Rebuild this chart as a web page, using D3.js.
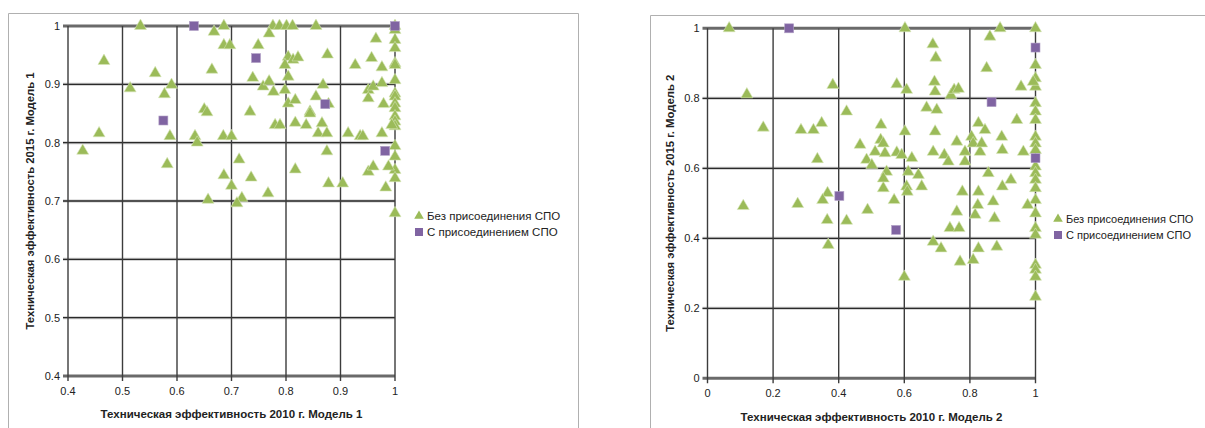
<!DOCTYPE html>
<html><head><meta charset="utf-8">
<script src="https://cdnjs.cloudflare.com/ajax/libs/d3/7.8.5/d3.min.js"></script>
<style>
html,body{margin:0;padding:0;background:#fff;}
svg{display:block;}
</style></head>
<body>
<svg id="c" width="1205" height="428"></svg>
<script>
// ---------- DATA ----------
const seriesNames = ["Без присоединения СПО", "С присоединением СПО"];

const m1XTicks = [0.4, 0.5, 0.6, 0.7, 0.8, 0.9, 1];
const m1YTicks = [0.4, 0.5, 0.6, 0.7, 0.8, 0.9, 1];
const m1XTitle = "Техническая эффективность 2010 г. Модель 1";
const m1YTitle = "Техническая эффективность 2015 г. Модель 1";

const m1Without = [
 [0.533,1.0],[0.668,0.99],[0.686,1.0],[0.686,0.967],[0.697,0.967],[0.466,0.94],[0.56,0.919],[0.664,0.925],
 [0.514,0.893],[0.59,0.899],[0.577,0.883],[0.65,0.857],[0.655,0.852],
 [0.776,1.0],[0.788,1.0],[0.801,1.0],[0.812,1.0],[0.855,1.0],[0.769,0.987],[0.749,0.967],
 [1,1.0],[1,0.993],[1,0.976],[1,0.962],[1,0.936],[1,0.933],[1,0.907],[1,0.884],[1,0.879],[1,0.867],
 [1,0.859],[1,0.845],[1,0.836],[1,0.828],[1,0.794],[1,0.776],[1,0.753],[1,0.739],[1,0.679],
 [0.804,0.947],[0.813,0.942],[0.822,0.946],[0.798,0.933],[0.804,0.913],[0.876,0.951],[0.965,0.978],
 [0.927,0.933],[0.957,0.945],[0.976,0.929],[0.739,0.911],[0.758,0.896],[0.769,0.905],[0.777,0.887],
 [0.798,0.89],[0.804,0.867],[0.817,0.873],[0.868,0.899],[0.855,0.879],[0.878,0.866],[0.844,0.853],
 [0.951,0.89],[0.96,0.896],[0.976,0.902],[0.951,0.876],[0.979,0.866],[0.734,0.853],
 [0.78,0.83],[0.789,0.83],[0.817,0.834],[0.837,0.83],[0.844,0.85],[0.866,0.833],[0.859,0.816],
 [0.875,0.816],[0.914,0.816],[0.936,0.811],[0.941,0.811],[0.976,0.816],[0.994,0.83],[0.875,0.785],
 [0.714,0.771],[0.817,0.754],[0.736,0.74],[0.951,0.75],[0.96,0.759],[0.988,0.759],[0.7,0.726],
 [0.878,0.73],[0.904,0.73],[0.767,0.713],[0.983,0.723],[0.719,0.705],[0.71,0.696],
 [0.457,0.816],[0.587,0.811],[0.633,0.811],[0.637,0.8],[0.685,0.811],[0.7,0.811],[0.427,0.786],
 [0.582,0.763],[0.686,0.744],[0.657,0.702]
];
const m1With = [[0.631,1.0],[0.745,0.945],[1.0,1.0],[0.872,0.866],[0.575,0.838],[0.982,0.786]];

const m2XTicks = [0, 0.2, 0.4, 0.6, 0.8, 1];
const m2YTicks = [0, 0.2, 0.4, 0.6, 0.8, 1];
const m2XTitle = "Техническая эффективность 2010 г. Модель 2";
const m2YTitle = "Техническая эффективность 2015 г. Модель 2";

const m2Without = [
 [0.066,1.0],[0.602,1.0],[0.892,1.0],[1,1.0],[0.861,0.976],[0.687,0.954],[0.696,0.916],[0.851,0.886],
 [0.382,0.838],[0.12,0.811],[0.424,0.762],[0.17,0.716],[0.285,0.709],[0.323,0.709],[0.348,0.729],
 [0.577,0.84],[0.607,0.824],[0.692,0.847],[0.694,0.819],[0.742,0.809],[0.752,0.824],[0.765,0.827],[0.956,0.833],
 [0.668,0.773],[0.699,0.767],[0.529,0.724],[0.694,0.705],[0.826,0.729],[0.943,0.738],[0.846,0.709],[0.602,0.705],
 [1,0.895],[1,0.857],[1,0.833],[1,0.786],[1,0.762],[1,0.738],[1,0.69],[1,0.671],[1,0.652],[1,0.605],
 [1,0.586],[1,0.567],[1,0.543],[1,0.509],[1,0.471],[1,0.429],[1,0.41],[1,0.324],[1,0.31],[1,0.29],[1,0.233],
 [0.993,0.847],
 [0.465,0.667],[0.528,0.681],[0.536,0.671],[0.511,0.647],[0.541,0.643],[0.577,0.645],[0.592,0.638],
 [0.623,0.629],[0.485,0.624],[0.501,0.609],[0.335,0.626],
 [0.688,0.647],[0.722,0.638],[0.734,0.619],[0.76,0.676],[0.785,0.647],[0.785,0.619],[0.805,0.69],
 [0.81,0.671],[0.831,0.647],[0.836,0.671],[0.897,0.69],[0.899,0.652],[0.963,0.647],
 [0.546,0.59],[0.536,0.543],[0.612,0.59],[0.643,0.581],[0.607,0.548],[0.609,0.533],[0.653,0.548],
 [0.569,0.509],[0.488,0.481],[0.536,0.571],
 [0.777,0.533],[0.826,0.533],[0.856,0.586],[0.899,0.548],[0.925,0.567],[0.871,0.505],[0.824,0.495],
 [0.816,0.467],[0.76,0.476],[0.875,0.457],[0.976,0.495],[0.739,0.429],[0.767,0.429],[0.688,0.39],
 [0.712,0.371],[0.826,0.371],[0.882,0.376],[0.77,0.333],[0.81,0.338],[0.6,0.29],
 [0.366,0.529],[0.351,0.509],[0.109,0.492],[0.275,0.498],[0.365,0.452],[0.424,0.45],[0.368,0.381]
];
const m2With = [[0.249,1.0],[1.0,0.945],[0.866,0.789],[1.0,0.629],[0.402,0.521],[0.575,0.424]];

// ---------- STYLE ----------
const GREEN = "#9bbb59", PURPLE = "#8064a2";
const FONT = "'Liberation Sans Narrow','Liberation Sans',Arial,sans-serif";
const svg = d3.select("#c");

function panel(o){
  const g = svg.append("g");
  g.append("path").attr("d", o.frame).attr("fill","none").attr("stroke","#b0b0b0").attr("stroke-width",1);
  const x = d3.scaleLinear().domain(o.xDom).range([o.x0, o.x1]);
  const y = d3.scaleLinear().domain(o.yDom).range([o.y0, o.y1]);
  o.yTicks.forEach(t=>{
    const edge = (t===o.yDom[0]||t===o.yDom[1]);
    g.append("line").attr("x1",o.x0-5).attr("x2",o.x1).attr("y1",y(t)).attr("y2",y(t))
      .attr("stroke", edge?"#6a6a6a":"#c8c8c8").attr("stroke-width",3);
    if(!edge) g.append("line").attr("x1",o.x0-5).attr("x2",o.x1).attr("y1",y(t)).attr("y2",y(t))
      .attr("stroke","#2a2a2a").attr("stroke-width",1.3);
  });
  o.xTicks.forEach(t=>{
    g.append("line").attr("x1",x(t)).attr("x2",x(t)).attr("y1",y(o.yDom[1])).attr("y2",y(o.yDom[0])+5)
      .attr("stroke","#3c3c3c").attr("stroke-width",1.4);
  });
  g.selectAll(".yt").data(o.yTicks).enter().append("text")
    .attr("x",o.x0-8).attr("y",d=>y(d)+4).attr("text-anchor","end")
    .attr("font-family",FONT).attr("font-size",11).attr("fill","#222").text(d=>d);
  g.selectAll(".xt").data(o.xTicks).enter().append("text")
    .attr("x",d=>x(d)).attr("y",y(o.yDom[0])+19).attr("text-anchor","middle")
    .attr("font-family",FONT).attr("font-size",11).attr("fill","#222").text(d=>d);
  g.append("text").attr("x",(o.x0+o.x1)/2).attr("y",o.xTitleY).attr("text-anchor","middle")
    .attr("font-family",FONT).attr("font-weight","bold").attr("font-size",11.5).attr("fill","#222").text(o.xTitle);
  g.append("text").attr("transform",`translate(${o.yTitleX},${(o.y0+o.y1)/2}) rotate(-90)`)
    .attr("text-anchor","middle").attr("font-family","'Liberation Sans',Arial,sans-serif")
    .attr("font-weight","bold").attr("font-size",11.3).attr("fill","#222").text(o.yTitle);
  const tri = d3.symbol().type(d3.symbolTriangle).size(62);
  g.selectAll(".tri").data(o.without).enter().append("path")
    .attr("d",tri).attr("transform",d=>`translate(${x(d[0])},${y(d[1])})`)
    .attr("fill",GREEN).attr("stroke","#d6e6b8").attr("stroke-width",0.6);
  g.selectAll(".sq").data(o.with).enter().append("rect")
    .attr("x",d=>x(d[0])-4.5).attr("y",d=>y(d[1])-4.5).attr("width",9).attr("height",9)
    .attr("fill",PURPLE).attr("stroke","#b3a2c7").attr("stroke-width",0.6);
  const lg = g.append("g").attr("transform",`translate(${o.legX},${o.legY})`);
  lg.append("path").attr("d",d3.symbol().type(d3.symbolTriangle).size(40)).attr("fill",GREEN);
  lg.append("rect").attr("x",-4).attr("y",12).attr("width",8).attr("height",8).attr("fill",PURPLE);
  lg.append("text").attr("x",8).attr("y",4).attr("font-family",FONT).attr("font-size",o.legFont)
    .attr("fill","#222").text(seriesNames[0]);
  lg.append("text").attr("x",8).attr("y",20).attr("font-family",FONT).attr("font-size",o.legFont)
    .attr("fill","#222").text(seriesNames[1]);
}

panel({frame:"M8.5,440 V13.5 H578.5 V440", xDom:[0.4,1], yDom:[0.4,1], x0:68, x1:395, y0:376, y1:26,
  xTicks:m1XTicks, yTicks:m1YTicks, xTitle:m1XTitle, yTitle:m1YTitle, xTitleY:418, yTitleX:34,
  without:m1Without, with:m1With, legX:419, legY:216, legFont:11.5});

panel({frame:"M650.5,440 V15.5 H1210", xDom:[0,1], yDom:[0,1], x0:707.5, x1:1035.5, y0:378.3, y1:28.3,
  xTicks:m2XTicks, yTicks:m2YTicks, xTitle:m2XTitle, yTitle:m2YTitle, xTitleY:421, yTitleX:674,
  without:m2Without, with:m2With, legX:1058, legY:219, legFont:11});
</script>
</body></html>
